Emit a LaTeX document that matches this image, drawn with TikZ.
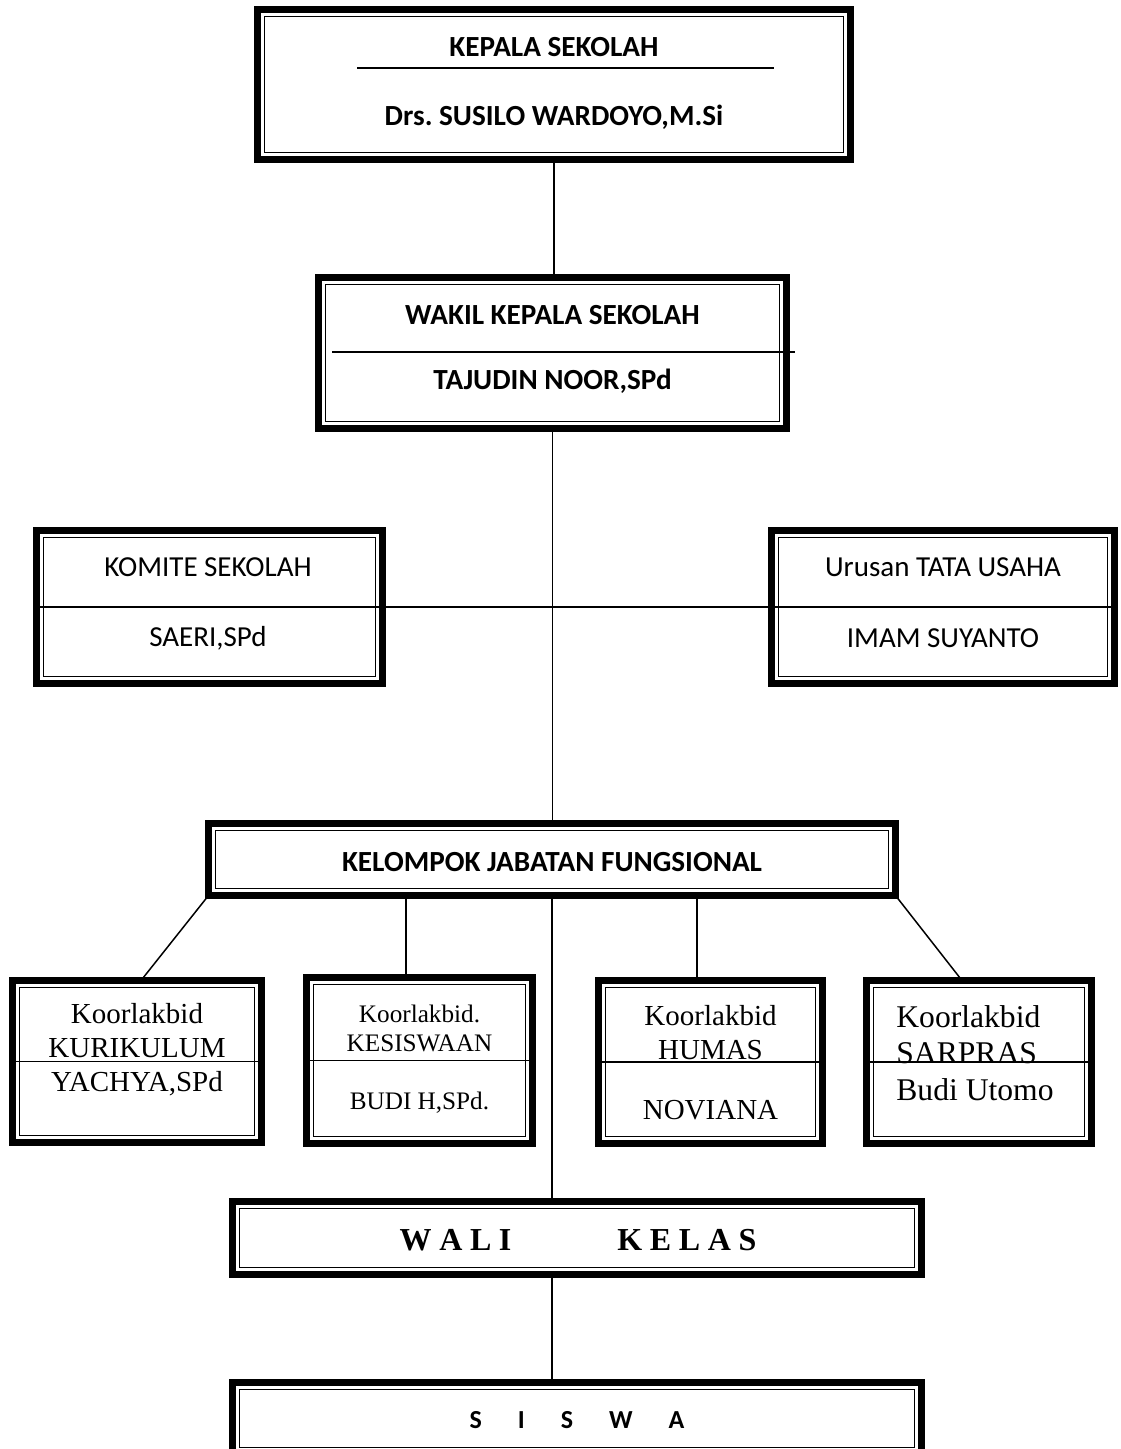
\documentclass[tikz,border=0pt]{standalone}
\usepackage{fontspec}
\setmainfont{Carlito}
\newfontfamily\timesfont{Liberation Serif}
\newcommand{\lsp}{\hspace{3.8pt}}
\newcommand{\wsp}{\hspace{18pt}}
\frenchspacing

\begin{document}
\begin{tikzpicture}[x=0.5pt,y=-0.5pt,
    orgbox/.style 2 args={draw, line width=3.9pt, outer sep=0pt, minimum width=#1*0.5pt, minimum height=#2*0.5pt, inner sep=0pt},
    link/.style={line width=0.75pt},
    head/.style={font=\bfseries\fontsize{14.6}{17}\selectfont},
    plain/.style={font=\fontsize{14.5}{17}\selectfont},
    koor/.style={font=\timesfont\fontsize{14.5}{17}\selectfont, align=center}]
    \useasboundingbox (0,0) rectangle (1120,1449);

    % boxes
    \node[orgbox={593}{150}] (kepala) at (554,84.5) {};
    \node[orgbox={468}{151}] (wakil) at (552.5,353) {};
    \node[orgbox={346}{153}] (komite) at (209.5,607) {};
    \node[orgbox={343}{153}] (tu) at (943,607) {};
    \node[orgbox={687}{72}] (kjf) at (552,859.5) {};
    \node[orgbox={249}{162}] (kur) at (137,1061.5) {};
    \node[orgbox={226}{166}] (kes) at (419.5,1060.5) {};
    \node[orgbox={224}{163}] (hum) at (710.5,1062) {};
    \node[orgbox={225}{163}] (sar) at (979,1062) {};
    \node[orgbox={689}{73}] (wali) at (577,1238) {};
    \node[orgbox={689}{72}] (siswa) at (577,1418.5) {};

    % thin inner frame
    \foreach \b in {kepala,wakil,komite,tu,kjf,kur,kes,hum,sar,wali,siswa}
        \draw[line width=0.9pt] ([shift={(3.5pt,-3.5pt)}]\b.north west) rectangle ([shift={(-3.5pt,3.5pt)}]\b.south east);

    % texts
    \node[head] (kepalaT) at (554,47) {KEPALA SEKOLAH};
    \node[head] (kepalaN) at (554,117) {Drs. SUSILO WARDOYO,M.Si};
    \node[head] (wakilT) at (552.5,315) {WAKIL KEPALA SEKOLAH};
    \node[head] (wakilN) at (552.5,381) {TAJUDIN NOOR,SPd};
    \node[plain] (komiteT) at (208,567) {KOMITE SEKOLAH};
    \node[plain] (komiteN) at (208,638) {SAERI,SPd};
    \node[plain] (tuT) at (943,567) {Urusan TATA USAHA};
    \node[plain] (tuN) at (943,638) {IMAM SUYANTO};
    \node[head] (kjfT) at (552,862) {KELOMPOK JABATAN FUNGSIONAL};
    \node[koor] (kurT) at (137,1050) {Koorlakbid\\KURIKULUM\\YACHYA,SPd};
    \node[koor, font=\timesfont\fontsize{12.6}{14.5}\selectfont] (kesT) at (419.5,1028) {Koorlakbid.\\KESISWAAN};
    \node[koor, font=\timesfont\fontsize{12.6}{14.5}\selectfont] (kesN) at (419.5,1103) {BUDI H,SPd.};
    \node[koor] (humT) at (710.5,1033) {Koorlakbid\\HUMAS};
    \node[koor] (humN) at (710.5,1110) {NOVIANA};
    \node[koor, anchor=west, align=left, inner sep=0pt, font=\timesfont\fontsize{15.8}{18.3}\selectfont] (sarT) at (896,1053) {Koorlakbid\\SARPRAS\\Budi Utomo};
    \node[font=\timesfont\bfseries\fontsize{16}{18}\selectfont] (waliT) at (578,1240)
        {W\lsp A\lsp L\lsp I\hspace{53pt}K\lsp E\lsp L\lsp A\lsp S};
    \node[font=\bfseries\fontsize{13}{15}\selectfont] (siswaT) at (577,1420)
        {S\wsp I\wsp S\wsp W\wsp A};

    % dividers
    \draw[link] (357,68) -- (774,68);
    \draw[link] (332,352) -- (795,352);
    \foreach \b in {kur,kes,hum,sar}
        \draw[link] (\b.west) -- (\b.east);

    % connectors
    \draw[link] (kepala.south) -- (kepala.south |- wakil.north);
    \draw[link] (wakil.south) -- (wakil.south |- kjf.north);
    \draw[link] (komite.west) -- (tu.east);
    \draw[link] (kjf.south west) -- ([xshift=2pt]kur.north);
    \draw[link] ([xshift=-6.75pt]kes.north) -- ([xshift=-6.75pt]kes.north |- kjf.south);
    \draw[link] ([xshift=-6.75pt]hum.north) -- ([xshift=-6.75pt]hum.north |- kjf.south);
    \draw[link] (kjf.south east) -- ([xshift=-8.5pt]sar.north);
    \draw[link] (kjf.south) -- (kjf.south |- wali.north);
    \draw[link] (kjf.south |- wali.south) -- (kjf.south |- siswa.north);
\end{tikzpicture}
\end{document}
